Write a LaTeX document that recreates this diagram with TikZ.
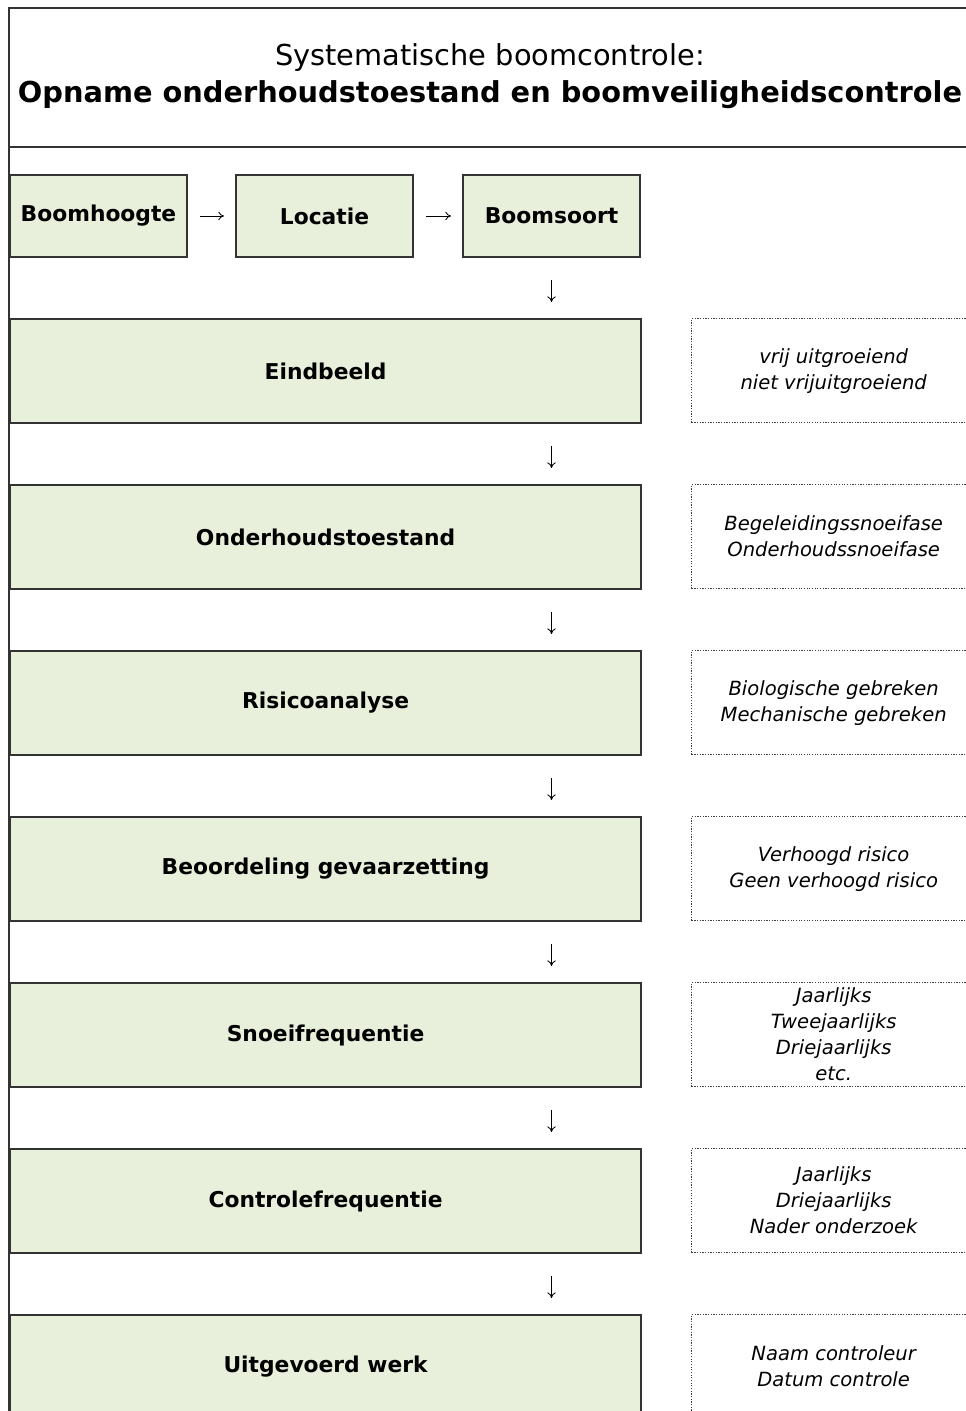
\documentclass[tikz,border=0pt]{standalone}
\usepackage{fontspec}
\setmainfont{DejaVu Sans}
\usetikzlibrary{positioning, arrows.meta}
\definecolor{stagefill}{HTML}{E8F0DC}
\definecolor{stageline}{HTML}{333333}

\begin{document}
\begin{tikzpicture}[x=0.025cm, y=-0.025cm,
	stage/.style={draw=stageline, fill=stagefill, line width=1.4pt, inner sep=0pt,
		font=\fontsize{15.5}{18}\selectfont\bfseries},
	topstage/.style={stage, minimum width=4.425cm, minimum height=2.05cm, anchor=north west},
	bigstage/.style={stage, minimum width=15.775cm, minimum height=2.6cm, anchor=north west},
	note/.style={draw=black!75, densely dotted, line width=0.9pt, inner sep=0pt, align=center,
		minimum width=7.1cm, minimum height=2.6cm, anchor=north west,
		font=\fontsize{13.9}{18.5}\selectfont\itshape},
	flow/.style={-{To[length=4pt, width=6pt]}, line width=0.6pt},]
	\useasboundingbox (0,0) rectangle (965,1411);
	\draw[line width=0.8pt, stageline] (1000,8) -- (9,8) -- (9,1420);
	\draw[line width=0.8pt, stageline] (9,147) -- (1000,147);
	\node[font=\fontsize{20.5}{22}\selectfont] (title) at (490,58) {Systematische boomcontrole:};
	\node[font=\fontsize{20.5}{22}\selectfont\bfseries] (subtitle) at (490,95) {Opname onderhoudstoestand en boomveiligheidscontrole};

	\node[topstage] (boomhoogte) at (9,174) {Boomhoogte};
	\node[topstage] (locatie) at (235,174) {Locatie};
	\node[topstage] (boomsoort) at (462,174) {Boomsoort};

	\node[bigstage] (eindbeeld) at (9,318) {Eindbeeld};
	\node[bigstage] (onderhoud) at (9,484) {Onderhoudstoestand};
	\node[bigstage] (risico) at (9,650) {Risicoanalyse};
	\node[bigstage] (gevaar) at (9,816) {Beoordeling gevaarzetting};
	\node[bigstage] (snoei) at (9,982) {Snoeifrequentie};
	\node[bigstage] (controle) at (9,1148) {Controlefrequentie};
	\node[bigstage] (werk) at (9,1314) {Uitgevoerd werk};

	\node[note] (eindbeeldnote) at (691,318) {vrij uitgroeiend\\niet vrijuitgroeiend};
	\node[note] (onderhoudnote) at (691,484) {Begeleidingssnoeifase\\Onderhoudssnoeifase};
	\node[note] (risiconote) at (691,650) {Biologische gebreken\\Mechanische gebreken};
	\node[note] (gevaarnote) at (691,816) {Verhoogd risico\\Geen verhoogd risico};
	\node[note] (snoeinote) at (691,982) {Jaarlijks\\Tweejaarlijks\\Driejaarlijks\\etc.};
	\node[note] (controlenote) at (691,1148) {Jaarlijks\\Driejaarlijks\\Nader onderzoek};
	\node[note] (werknote) at (691,1314) {Naam controleur\\Datum controle};

	\draw[flow, shorten <=0.3cm, shorten >=0.275cm] (boomhoogte) -- (locatie);
	\draw[flow, shorten <=0.3cm, shorten >=0.275cm] (locatie) -- (boomsoort);
	\draw[flow, shorten <=0.55cm, shorten >=0.4cm] (boomsoort.south) -- (boomsoort.south |- eindbeeld.north);
	\draw[flow, shorten <=0.55cm, shorten >=0.4cm] (eindbeeld.south -| boomsoort.south) -- (onderhoud.north -| boomsoort.south);
	\draw[flow, shorten <=0.55cm, shorten >=0.4cm] (onderhoud.south -| boomsoort.south) -- (risico.north -| boomsoort.south);
	\draw[flow, shorten <=0.55cm, shorten >=0.4cm] (risico.south -| boomsoort.south) -- (gevaar.north -| boomsoort.south);
	\draw[flow, shorten <=0.55cm, shorten >=0.4cm] (gevaar.south -| boomsoort.south) -- (snoei.north -| boomsoort.south);
	\draw[flow, shorten <=0.55cm, shorten >=0.4cm] (snoei.south -| boomsoort.south) -- (controle.north -| boomsoort.south);
	\draw[flow, shorten <=0.55cm, shorten >=0.4cm] (controle.south -| boomsoort.south) -- (werk.north -| boomsoort.south);
\end{tikzpicture}
\end{document}
